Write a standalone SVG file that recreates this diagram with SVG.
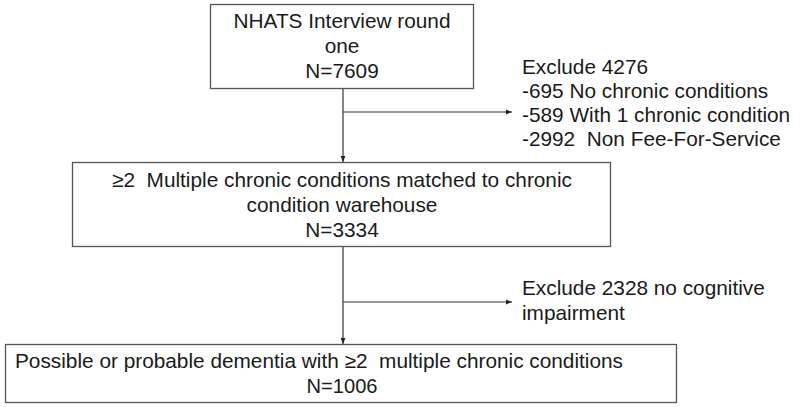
<svg xmlns="http://www.w3.org/2000/svg" width="800" height="407" viewBox="0 0 800 407">
<defs>
<style>
.box{fill:#fff;stroke:#555;stroke-width:1.3}
.t{font-family:"Liberation Sans",Arial,sans-serif;font-size:20.8px;fill:#1a1a1a}
.c{text-anchor:middle}
.ln{stroke:#333;stroke-width:1.2;fill:none}
</style>
<marker id="ah" viewBox="0 0 10 10" refX="10" refY="5" markerWidth="6" markerHeight="6" orient="auto" markerUnits="userSpaceOnUse">
<path d="M0,1 L10,5 L0,9 z" fill="#222"/>
</marker>
</defs>
<rect width="800" height="407" fill="#fff"/>
<g id="connectors">
<line class="ln" x1="343" y1="88" x2="343" y2="162" marker-end="url(#ah)"/>
<line class="ln" x1="343" y1="112" x2="512" y2="112" marker-end="url(#ah)"/>
<line class="ln" x1="343" y1="247" x2="343" y2="344" marker-end="url(#ah)"/>
<line class="ln" x1="343" y1="302" x2="512" y2="302" marker-end="url(#ah)"/>
</g>
<g id="n1">
<rect class="box" x="210.5" y="4.5" width="263" height="84"/>
<text class="t c" x="342" y="28">NHATS Interview round</text>
<text class="t c" x="342" y="53">one</text>
<text class="t c" x="342" y="78">N=7609</text>
</g>
<g id="ex1">
<text class="t" x="522" y="74">Exclude 4276</text>
<text class="t" x="522" y="98">-695 No chronic conditions</text>
<text class="t" x="522" y="122">-589 With 1 chronic condition</text>
<text class="t" x="522" y="146" xml:space="preserve">-2992  Non Fee-For-Service</text>
</g>
<g id="n2">
<rect class="box" x="72.5" y="162.5" width="538" height="84"/>
<text class="t c" x="342" y="187" xml:space="preserve">≥2  Multiple chronic conditions matched to chronic</text>
<text class="t c" x="342" y="212">condition warehouse</text>
<text class="t c" x="342" y="237">N=3334</text>
</g>
<g id="ex2">
<text class="t" x="522" y="295">Exclude 2328 no cognitive</text>
<text class="t" x="522" y="320">impairment</text>
</g>
<g id="n3">
<rect class="box" x="5.5" y="344.5" width="671" height="58"/>
<text class="t" x="15" y="368" style="font-size:20.5px" textLength="608" lengthAdjust="spacingAndGlyphs" xml:space="preserve">Possible or probable dementia with ≥2  multiple chronic conditions</text>
<text class="t c" x="342" y="393" style="font-size:20.5px" textLength="71" lengthAdjust="spacingAndGlyphs">N=1006</text>
</g>
</svg>
